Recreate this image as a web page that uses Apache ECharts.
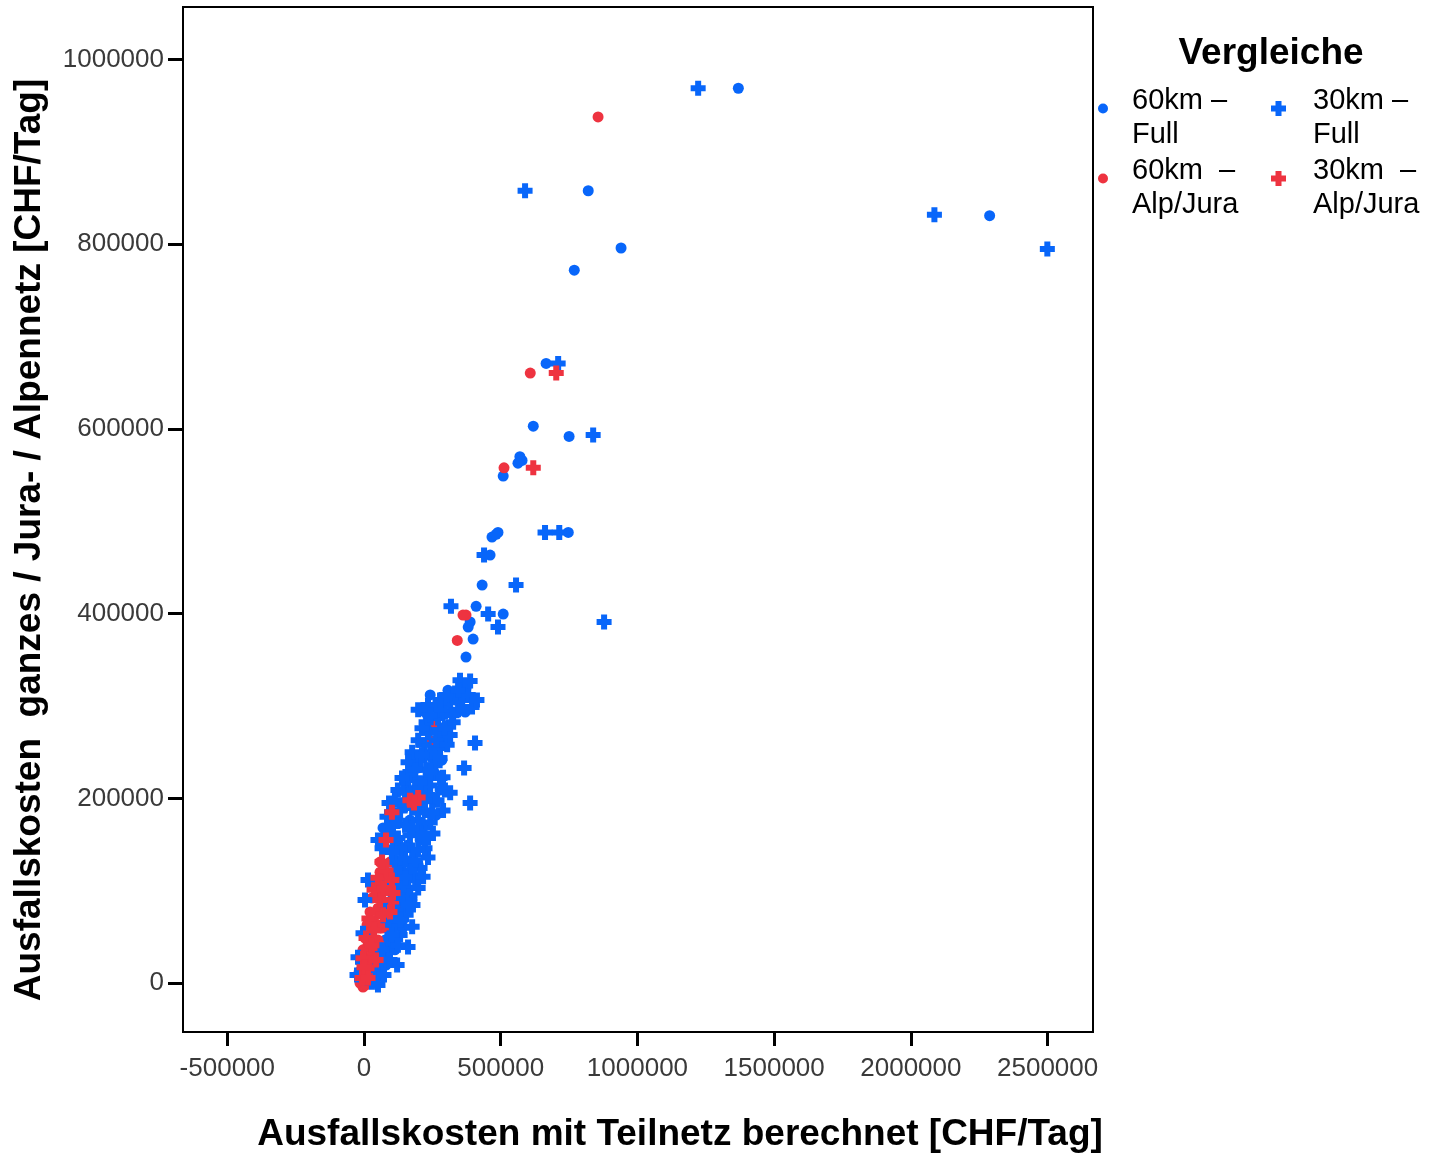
<!DOCTYPE html>
<html><head><meta charset="utf-8">
<script src="https://cdn.jsdelivr.net/npm/echarts@6/dist/echarts.min.js"></script>
<style>html,body{margin:0;padding:0;background:#fff}#c{width:1435px;height:1154px}</style>
</head><body><div id="c"></div>
<script>
// Series names (legend)
const seriesNames = ['60km – Full', '60km – Alp/Jura', '30km – Full', '30km – Alp/Jura'];
const legendLines = [['60km –', 'Full'], ['60km  –', 'Alp/Jura'], ['30km –', 'Full'], ['30km  –', 'Alp/Jura']];
// Tick labels
const xTicks = [-500000, 0, 500000, 1000000, 1500000, 2000000, 2500000];
const yTicks = [0, 200000, 400000, 600000, 800000, 1000000];

// 60km – Full (blue dots)
const full60 = [
  [1369000,969000],[820000,858000],[940000,796000],[769000,772000],[2288000,831000],
  [666000,671000],[619000,603000],[750000,592000],[578000,566000],[570000,570000],[563000,563000],
  [509000,549000],[747000,488000],[468000,483000],[490000,488000],[483000,486000],
  [461000,463500],[432000,431000],[410000,408000],[509000,399600],[381000,385500],
  [388000,391000],[399000,372500],[373000,353000],
  [22000,8700],[36600,19500],[51000,33500],[77000,46600],[95000,57000],[117000,70000],
  [139000,84500],[102000,90000],[161000,101000],[124000,109000],[176000,117000],[198000,128000],
  [139000,128000],[161000,149500],[205000,155000],[113000,152500],[69500,168000],[223000,171000],
  [168000,176500],[264000,182000],[205000,193000],[249000,198000],[183000,209000],[227000,220000],
  [256000,228500],[198000,233000],[249000,243600],[285000,241500],[242000,263000],[293000,265000],
  [256000,279000],[307000,279000],[285000,301000],[337000,306500],[370000,293500],[307000,317000],
  [373000,319500],
  [242000,312000],[223000,293500],[183000,241500],[154000,214000],[278000,209000],[132000,133000],
  [176000,90000],[113000,36000],[80500,19500]
];
// 60km – Alp/Jura (red dots)
const alp60 = [
  [856000,938000],[608000,660600],[512000,558000],[373000,398500],[362000,398500],[341000,371000],
  [260000,282000],[245000,261000],
  [-14600,0],[-3700,3200],[7300,1000],[-3700,-4300],[-18000,12000],[0,14000],[18000,8700],
  [-11000,23000],[7300,27000],[25600,19500],[-3700,36000],[14600,41000],[36600,33500],
  [3700,48700],[25600,52000],[51000,46600],[11000,63000],[36600,66000],[66000,59500],
  [22000,77000],[51000,81000],[80500,74000],[29000,92000],[62000,95000],[95000,88000],
  [44000,106000],[77000,109000],[58600,120000],[88000,117000],[69500,128000],
  [102000,117000],[110000,101000],[117000,84500],[80500,84500],[88000,63000],[51000,63000],
  [58600,41000],[29000,27000],[36600,12000],[7300,-2000],[58600,131000],[95000,131000]
];
// 30km – Full (blue pluses)
const full30 = [
  [1222000,969000],[589000,858000],[2086000,832000],[2499000,795000],[710000,671000],
  [838000,593500],[662000,488000],[714000,488000],[556000,431000],[318000,408000],
  [454000,399600],[490000,385500],[878000,391000],[439000,463500],
  [29000,1000],[44000,5000],[51000,14000],[59000,23000],[73000,30000],[88000,38000],
  [102000,44000],[121000,19500],[161000,39000],[132000,52000],[146000,60000],[176000,61000],
  [113000,63000],[88000,68000],[124000,77000],[154000,74000],[179000,84500],[168000,95000],
  [139000,92000],[113000,101000],[146000,106000],[187000,111500],[216000,115000],[205000,124500],
  [168000,122000],[132000,117000],[113000,131000],[150000,135000],[187000,133000],[234000,136000],
  [223000,146000],[176000,144000],[132000,146000],[102000,142000],
  [14600,111500],[3700,90000],[-3700,54000],[-22000,28000],[-25600,8700],
  [51000,155000],[88000,160000],[124000,157000],[168000,160000],[205000,163500],[252000,162000],
  [242000,174000],[198000,176500],[150000,171000],[113000,176500],[84000,180000],[91500,195000],
  [132000,187000],[176000,189500],[223000,187000],[289000,187000],[267000,198000],[234000,203600],
  [205000,209000],[150000,206000],[187000,220000],[242000,214000],[296000,209000],[315000,206000],
  [388000,195000],[278000,222000],[227000,231000],[168000,228500],[205000,241500],[260000,236000],
  [289000,223000],[366000,233000],[242000,250000],[278000,254500],[220000,258000],[264000,263000],
  [304000,258000],[406000,260000],[234000,271000],[278000,274000],[315000,268600],[227000,282500],
  [271000,287000],[326000,282500],[296000,293500],[344000,296000],[264000,296000],[315000,304000],
  [359000,306500],[395000,299000],[333000,314000],[381000,312000],[413000,306500],[351000,328000],
  [388000,327000],
  [198000,296000],[234000,301000],[278000,306500],[300000,312000],[344000,317000],[322000,290000],
  [242000,290000],[212000,276000],[296000,276000],[198000,263000],[176000,250000],[212000,247000],
  [278000,243600],[161000,239000],[187000,231000],[242000,228500],[139000,222000],[205000,217000],
  [124000,209000],[168000,203600],[223000,198000],[113000,198000],[150000,193000],[198000,185000],
  [249000,185000],[106000,170000],[176000,168000],[234000,157000],[66000,146000],[198000,144000],
  [113000,122000],[150000,114000],[198000,103000],[95000,111500],[161000,84500],[77000,79000],
  [132000,68000],[102000,52000],[124000,41000],[66000,36000],[95000,25000],[51000,-2000],[73000,8700]
];
// 30km – Alp/Jura (red pluses)
const alp30 = [
  [703000,660600],[619000,558000],
  [80500,155000],[102000,185000],[168000,198000],[198000,201000],[183000,195000],
  [-7300,5400],[11000,16000],[-3700,27000],[22000,38000],[7300,48700],[36600,57000],
  [18000,70000],[47600,77000],[58600,90000],[36600,101000],[73000,103000],[106000,97500],
  [51000,114000],[80500,122000],[66000,131000],
  [69500,74000],[95000,77000],[29000,41000],[44000,25000],[0,17000],[14600,5400],[102000,111500]
];

const BLUE = '#0866fa';
const RED = '#ee3340';
const PLUS = 'path://M4.5,0H10.5V4.5H15V10.5H10.5V15H4.5V10.5H0V4.5H4.5Z';

const chart = echarts.init(document.getElementById('c'));
const labelFmt = {};
seriesNames.forEach((n, i) => labelFmt[n] = '{s| }\n{a|' + legendLines[i][0] + '}\n{a|' + legendLines[i][1] + '}');

const axisLineStyle = { show: true, onZero: false, lineStyle: { color: '#000', width: 2 } };
const tickLabelStyle = { fontSize: 26, color: '#3a3a3a', fontFamily: 'Liberation Sans', formatter: v => String(v) };

function legendItem(idx, left, top, w, h) {
  return {
    data: [seriesNames[idx]], orient: 'vertical', left: left, top: top,
    itemWidth: w, itemHeight: h, padding: 0,
    formatter: n => labelFmt[n],
    textStyle: {
      fontSize: 29, color: '#000', fontFamily: 'Liberation Sans',
      rich: {
        s: { fontSize: 1, lineHeight: 18 },
        a: { fontSize: 29, lineHeight: 34, color: '#000', fontFamily: 'Liberation Sans' }
      }
    }
  };
}

chart.setOption({
  animation: false,
  backgroundColor: '#fff',
  grid: { left: 183, right: 342, top: 7, bottom: 122, show: true, borderColor: '#000', borderWidth: 2 },
  xAxis: {
    type: 'value', min: -662000, max: 2666000,
    axisLine: axisLineStyle, splitLine: { show: false },
    axisTick: { show: true, length: 14, lineStyle: { color: '#000', width: 3 }, customValues: xTicks },
    axisLabel: Object.assign({ customValues: xTicks, margin: 24 }, tickLabelStyle),
  },
  yAxis: {
    type: 'value', min: -53000, max: 1057000,
    axisLine: axisLineStyle, splitLine: { show: false },
    axisTick: { show: true, length: 15, lineStyle: { color: '#000', width: 3 }, customValues: yTicks },
    axisLabel: Object.assign({ customValues: yTicks, margin: 19 }, tickLabelStyle),
  },
  title: {
    text: 'Vergleiche', left: 1266, top: 30, textAlign: 'center',
    textStyle: { fontSize: 37, fontWeight: 'bold', color: '#000', fontFamily: 'Liberation Sans' }
  },
  legend: [
    legendItem(0, 1098, 74, 48, 10),
    legendItem(1, 1098, 144, 48, 10),
    legendItem(2, 1271, 74, 59, 15),
    legendItem(3, 1271, 144, 59, 15)
  ],
  graphic: [
    { type: 'text', x: 680, y: 1135, style: { text: 'Ausfallskosten mit Teilnetz berechnet [CHF/Tag]', font: 'bold 37px "Liberation Sans"', fill: '#000', textAlign: 'center', textVerticalAlign: 'middle' } },
    { type: 'text', x: 30, y: 540, rotation: Math.PI / 2, style: { text: 'Ausfallskosten  ganzes / Jura- / Alpennetz [CHF/Tag]', font: 'bold 37px "Liberation Sans"', fill: '#000', textAlign: 'center', textVerticalAlign: 'middle' } }
  ],
  series: [
    { name: seriesNames[0], type: 'scatter', data: full60, symbol: 'circle', symbolSize: 11, itemStyle: { color: BLUE, opacity: 1 } },
    { name: seriesNames[1], type: 'scatter', data: alp60, symbol: 'circle', symbolSize: 11, itemStyle: { color: RED, opacity: 1 } },
    { name: seriesNames[2], type: 'scatter', data: full30, symbol: PLUS, symbolKeepAspect: true, symbolSize: 15, itemStyle: { color: BLUE, opacity: 1 } },
    { name: seriesNames[3], type: 'scatter', data: alp30, symbol: PLUS, symbolKeepAspect: true, symbolSize: 15, itemStyle: { color: RED, opacity: 1 } }
  ]
});
</script></body></html>
